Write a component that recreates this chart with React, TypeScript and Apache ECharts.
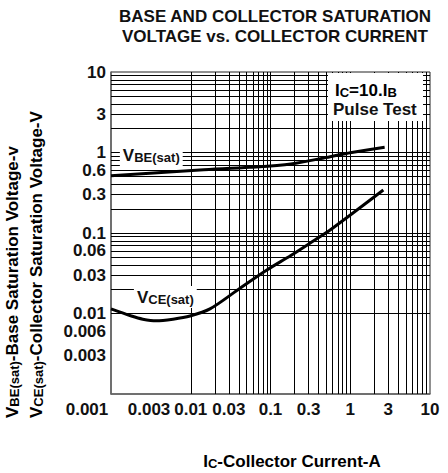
import React, { useEffect, useRef } from 'react';
import * as echarts from 'echarts';

const xTickLabels = [0.001, 0.003, 0.01, 0.03, 0.1, 0.3, 1, 3, 10];
const yTickLabels = [0.003, 0.006, 0.01, 0.03, 0.06, 0.1, 0.3, 0.6, 1, 3, 10];
const gridSteps = [1, 2, 3, 4, 5, 6, 7, 8, 9];
const gridDecades = [0.001, 0.01, 0.1, 1];

const vbeCurrent = [0.001, 0.013, 0.055, 0.18, 0.56, 1.0, 2.7];
const vbeVoltage = [0.515, 0.607, 0.655, 0.72, 0.887, 0.994, 1.16];

const vceCurrent = [0.001, 0.0018, 0.0025, 0.0037, 0.006, 0.0098, 0.0174, 0.0415, 0.09, 0.18, 0.36, 0.56, 2.6];
const vceVoltage = [0.0114, 0.0093, 0.0085, 0.0081, 0.0085, 0.0093, 0.0114, 0.0206, 0.0347, 0.0526, 0.082, 0.109, 0.342];

const FONT = '"Liberation Sans", Arial, Helvetica, sans-serif';

function fmt(v: number): string {
  return String(Number(Number(v).toPrecision(3)));
}

export default function App() {
  const ref = useRef<HTMLDivElement>(null);
  useEffect(() => {
    if (!ref.current) return;
    const chart = echarts.init(ref.current, undefined, { renderer: 'svg' });
    const gridVals: number[] = [];
    gridDecades.forEach((d) => gridSteps.forEach((s) => {
      const v = Number((d * s).toPrecision(3));
      if (v > 0.001) gridVals.push(v);
    }));
    const gridLines = [
      ...gridVals.map((v) => ({ xAxis: v })),
      ...gridVals.map((v) => ({ yAxis: v })),
    ];
    const bold = { fontFamily: FONT, fontWeight: 'bold' as const, color: '#111' };
    const labelRich = {
      v: { ...bold, fontSize: 17, verticalAlign: 'bottom' as const },
      s: { ...bold, fontSize: 13, verticalAlign: 'bottom' as const },
    };
    chart.setOption({
      animation: false,
      backgroundColor: '#fff',
      grid: { left: 111, right: 18, top: 72, bottom: 79, show: true, borderColor: '#222', borderWidth: 1, containLabel: false },
      xAxis: {
        type: 'log',
        logBase: 10,
        min: 0.001,
        max: 10,
        axisLine: { show: true, lineStyle: { color: '#666', width: 1.5 } },
        axisTick: { show: false },
        splitLine: { show: false },
        axisLabel: {
          customValues: xTickLabels,
          margin: 7,
          fontSize: 17,
          fontWeight: 'bold',
          fontFamily: FONT,
          color: '#111',
          formatter: (v: number) => (Math.abs(v - 0.001) < 1e-9 ? '{c|0.001}' : fmt(v)),
          rich: { c: { fontSize: 17, fontWeight: 'bold', fontFamily: FONT, color: '#111', padding: [0, 48, 0, 0] } },
        },
      },
      yAxis: {
        type: 'log',
        logBase: 10,
        min: 0.001,
        max: 10,
        axisLine: { show: true, lineStyle: { color: '#666', width: 1.5 } },
        axisTick: { show: false },
        splitLine: { show: false },
        axisLabel: {
          customValues: yTickLabels,
          margin: 5,
          fontSize: 17,
          fontWeight: 'bold',
          fontFamily: FONT,
          color: '#111',
          formatter: (v: number) => fmt(v),
        },
      },
      series: [
        {
          name: 'grid',
          type: 'line',
          data: [],
          z: 1,
          silent: true,
          markLine: {
            silent: true,
            symbol: ['none', 'none'],
            label: { show: false },
            emphasis: { disabled: true },
            lineStyle: { color: '#000', width: 1, type: 'solid', opacity: 1 },
            data: gridLines,
          },
        },
        {
          name: 'VBE(sat)',
          type: 'line',
          z: 3,
          smooth: 0.3,
          symbol: 'none',
          lineStyle: { color: '#000', width: 3 },
          data: vbeCurrent.map((x, i) => [x, vbeVoltage[i]]),
          markPoint: {
            symbol: 'rect',
            symbolSize: 1,
            itemStyle: { color: 'rgba(0,0,0,0)' },
            label: {
              show: true,
              position: 'inside',
              backgroundColor: '#fff',
              padding: [4, 3, 3, 3],
              formatter: '{v|V}{s|BE(sat)}',
              rich: labelRich,
            },
            data: [{ coord: [0.0032, 0.93] }],
          },
        },
        {
          name: 'VCE(sat)',
          type: 'line',
          z: 3,
          smooth: 0.3,
          symbol: 'none',
          lineStyle: { color: '#000', width: 3 },
          data: vceCurrent.map((x, i) => [x, vceVoltage[i]]),
          markPoint: {
            symbol: 'rect',
            symbolSize: 1,
            itemStyle: { color: 'rgba(0,0,0,0)' },
            label: {
              show: true,
              position: 'inside',
              backgroundColor: '#fff',
              padding: [3, 3, 2, 3],
              formatter: '{v|V}{s|CE(sat)}',
              rich: labelRich,
            },
            data: [{ coord: [0.0048, 0.016] }],
          },
        },
      ],
      graphic: [
        {
          type: 'text', x: 275, y: 16, z: 10,
          style: { text: 'BASE AND COLLECTOR SATURATION', fontSize: 17, fontWeight: 'bold', fontFamily: FONT, fill: '#111', align: 'center', verticalAlign: 'middle' },
        },
        {
          type: 'text', x: 275, y: 36, z: 10,
          style: { text: 'VOLTAGE vs. COLLECTOR CURRENT', fontSize: 17, fontWeight: 'bold', fontFamily: FONT, fill: '#111', align: 'center', verticalAlign: 'middle' },
        },
        {
          type: 'text', x: 292, y: 461, z: 10,
          style: {
            text: '{v|I}{s|C}{v|-Collector Current-A}', align: 'center', verticalAlign: 'middle',
            rich: labelRich,
          },
        },
        {
          type: 'text', x: 12, y: 418, z: 10, rotation: Math.PI / 2,
          style: {
            text: '{v|V}{s|BE(sat)}{v|-Base Saturation Voltage-v}', align: 'left', verticalAlign: 'middle',
            rich: labelRich,
          },
        },
        {
          type: 'text', x: 36, y: 418, z: 10, rotation: Math.PI / 2,
          style: {
            text: '{v|V}{s|CE(sat)}{v|-Collector Saturation Voltage-V}', align: 'left', verticalAlign: 'middle',
            rich: labelRich,
          },
        },
        {
          type: 'rect', z: 10,
          shape: { x: 328, y: 73, width: 95, height: 48 },
          style: { fill: '#fff' },
        },
        {
          type: 'text', x: 335, y: 90, z: 11,
          style: { text: '{v|I}{s|C}{v|=10.I}{s|B}', align: 'left', verticalAlign: 'middle', rich: labelRich },
        },
        {
          type: 'text', x: 333, y: 109, z: 11,
          style: { text: 'Pulse Test', fontSize: 17, fontWeight: 'bold', fontFamily: FONT, fill: '#111', align: 'left', verticalAlign: 'middle' },
        },
      ],
    });
    return () => chart.dispose();
  }, []);
  return <div ref={ref} style={{ width: 448, height: 473, position: 'absolute', left: 0, top: 0 }} />;
}
